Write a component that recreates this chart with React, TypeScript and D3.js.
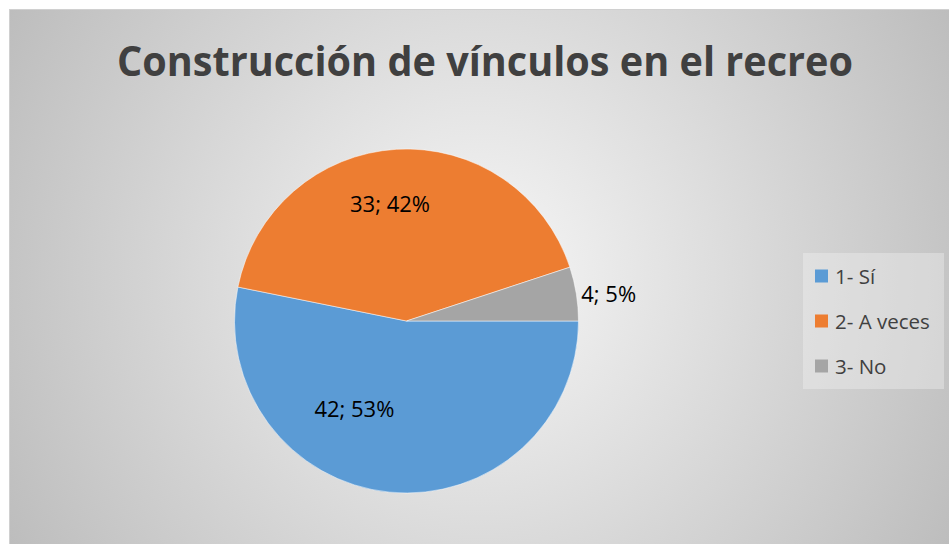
import React, { useRef, useEffect } from 'react';
import * as d3 from 'd3';

const categories = ['1- Sí', '2- A veces', '3- No'];
const values = [42, 33, 4];
const percents = ['53%', '42%', '5%'];
const colors = ['#5b9bd5', '#ed7d31', '#a5a5a5'];
const title = 'Construcción de vínculos en el recreo';

const App = () => {
  const svgRef = useRef<SVGSVGElement>(null);
  const width = 949;
  const height = 544;
  const cx = 406.5;
  const cy = 321;
  const radius = 172;

  useEffect(() => {
    const svg = d3.select(svgRef.current);
    svg.selectAll('*').remove();

    const defs = svg.append('defs');
    const grad = defs.append('radialGradient')
      .attr('id', 'bg')
      .attr('gradientUnits', 'userSpaceOnUse')
      .attr('cx', 480).attr('cy', 276).attr('r', 540);
    grad.append('stop').attr('offset', '0%').attr('stop-color', '#f7f7f7');
    grad.append('stop').attr('offset', '100%').attr('stop-color', '#bdbdbd');

    svg.append('rect')
      .attr('x', 9).attr('y', 9)
      .attr('width', width - 9).attr('height', height - 9)
      .attr('fill', 'url(#bg)');
    svg.append('line')
      .attr('x1', 9).attr('x2', width).attr('y1', 9.5).attr('y2', 9.5)
      .attr('stroke', '#d0d0d0');
    svg.append('line')
      .attr('x1', 9.5).attr('x2', 9.5).attr('y1', 9).attr('y2', height)
      .attr('stroke', '#d0d0d0');

    svg.append('text')
      .attr('x', 485).attr('y', 76)
      .attr('text-anchor', 'middle')
      .attr('font-family', 'Open Sans')
      .attr('font-weight', 'bold')
      .attr('font-size', 41)
      .attr('fill', '#404040')
      .attr('textLength', 736)
      .attr('lengthAdjust', 'spacingAndGlyphs')
      .text(title);

    const pie = d3.pie<number>()
      .sort(null)
      .startAngle(Math.PI / 2)
      .endAngle(Math.PI / 2 + 2 * Math.PI);
    const arcs = pie(values);
    const arc = d3.arc<d3.PieArcDatum<number>>().innerRadius(0).outerRadius(radius);

    const g = svg.append('g').attr('transform', `translate(${cx},${cy})`);
    g.selectAll('path')
      .data(arcs)
      .enter()
      .append('path')
      .attr('d', arc)
      .attr('fill', (d, i) => colors[i])
      .attr('stroke', '#ffffff')
      .attr('stroke-width', 0.5);

    // label placement: inside for big slices, outside for the small one
    const labelAngleShift = [0.44, -0.08, 0];
    arcs.forEach((d, i) => {
      const mid = (d.startAngle + d.endAngle) / 2 + labelAngleShift[i];
      const outside = d.endAngle - d.startAngle < 0.5;
      const r = outside ? radius + 5 : radius * (i === 0 ? 0.59 : 0.69);
      g.append('text')
        .attr('x', Math.sin(mid) * r)
        .attr('y', -Math.cos(mid) * r)
        .attr('text-anchor', outside ? 'start' : 'middle')
        .attr('dominant-baseline', 'central')
        .attr('font-family', 'Open Sans')
        .attr('font-size', 22)
        .attr('fill', '#000000')
        .text(`${values[i]}; ${percents[i]}`);
    });

    const legend = svg.append('g').attr('transform', 'translate(803,253)');
    legend.append('rect')
      .attr('width', 141).attr('height', 136)
      .attr('fill', '#f2f2f2').attr('fill-opacity', 0.39);
    const rowY = d3.scalePoint<string>().domain(categories).range([23, 113]);
    categories.forEach((c, i) => {
      const y = rowY(c) as number;
      legend.append('rect')
        .attr('x', 12).attr('y', y - 6.5)
        .attr('width', 13).attr('height', 13)
        .attr('fill', colors[i]);
      legend.append('text')
        .attr('x', 32).attr('y', y)
        .attr('dominant-baseline', 'central')
        .attr('font-family', 'Open Sans')
        .attr('font-size', 20.5)
        .attr('fill', '#404040')
        .text(c);
    });
  }, []);

  return (
    <svg ref={svgRef} width={width} height={height}
      style={{ position: 'absolute', left: 0, top: 0 }} />
  );
};

export default App;
